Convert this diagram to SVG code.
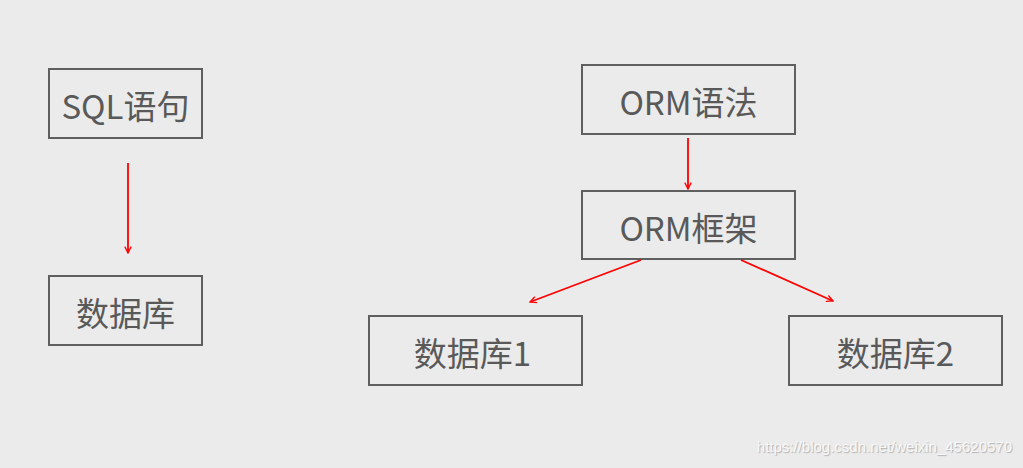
<svg xmlns="http://www.w3.org/2000/svg" width="1023" height="468" viewBox="0 0 1023 468">
<defs>
<style>
.box{fill:none;stroke:#5f5f5f;stroke-width:2}
.lbl{font-family:"Noto Sans CJK SC","Noto Sans",sans-serif;font-size:33px;fill:#595959;text-anchor:middle;dominant-baseline:central}
.edge{stroke:#ff0000;stroke-width:1.8;fill:none;marker-end:url(#arr)}
.wm{font-family:"Liberation Sans",Arial,sans-serif;font-size:15px;fill:#f8f8f8;text-anchor:end}
</style>
<marker id="arr" viewBox="0 0 10 10" refX="9" refY="5" markerWidth="8" markerHeight="8" markerUnits="userSpaceOnUse" orient="auto">
<path d="M1,1 L9,5 L1,9" fill="none" stroke="#ff0000" stroke-width="1.6"/>
</marker>
</defs>
<rect width="1023" height="468" fill="#ebebeb"/>
<g id="n-sql"><rect class="box" x="49" y="69" width="153" height="69"/><text class="lbl" x="125.5" y="105">SQL语句</text></g>
<g id="n-db"><rect class="box" x="49" y="276" width="153" height="69"/><text class="lbl" x="125.5" y="312">数据库</text></g>
<g id="n-ormsyntax"><rect class="box" x="582" y="65" width="213" height="69"/><text class="lbl" x="688.5" y="101">ORM语法</text></g>
<g id="n-ormframe"><rect class="box" x="582" y="191" width="213" height="68"/><text class="lbl" x="688.5" y="227">ORM框架</text></g>
<g id="n-db1"><rect class="box" x="369" y="316" width="213" height="69"/><text class="lbl" x="472.5" y="352">数据库1</text></g>
<g id="n-db2"><rect class="box" x="789" y="316" width="213" height="69"/><text class="lbl" x="895.5" y="352">数据库2</text></g>
<g id="edges">
<line class="edge" x1="128" y1="163" x2="128" y2="253"/>
<line class="edge" x1="688" y1="138" x2="688" y2="189"/>
<line class="edge" x1="641" y1="260" x2="530" y2="302"/>
<line class="edge" x1="741" y1="260" x2="833" y2="301"/>
</g>
<text class="wm" x="1012" y="452" style="text-shadow:1px 1px 1px #b0b0b0">https://blog.csdn.net/weixin_45620570</text>
</svg>
